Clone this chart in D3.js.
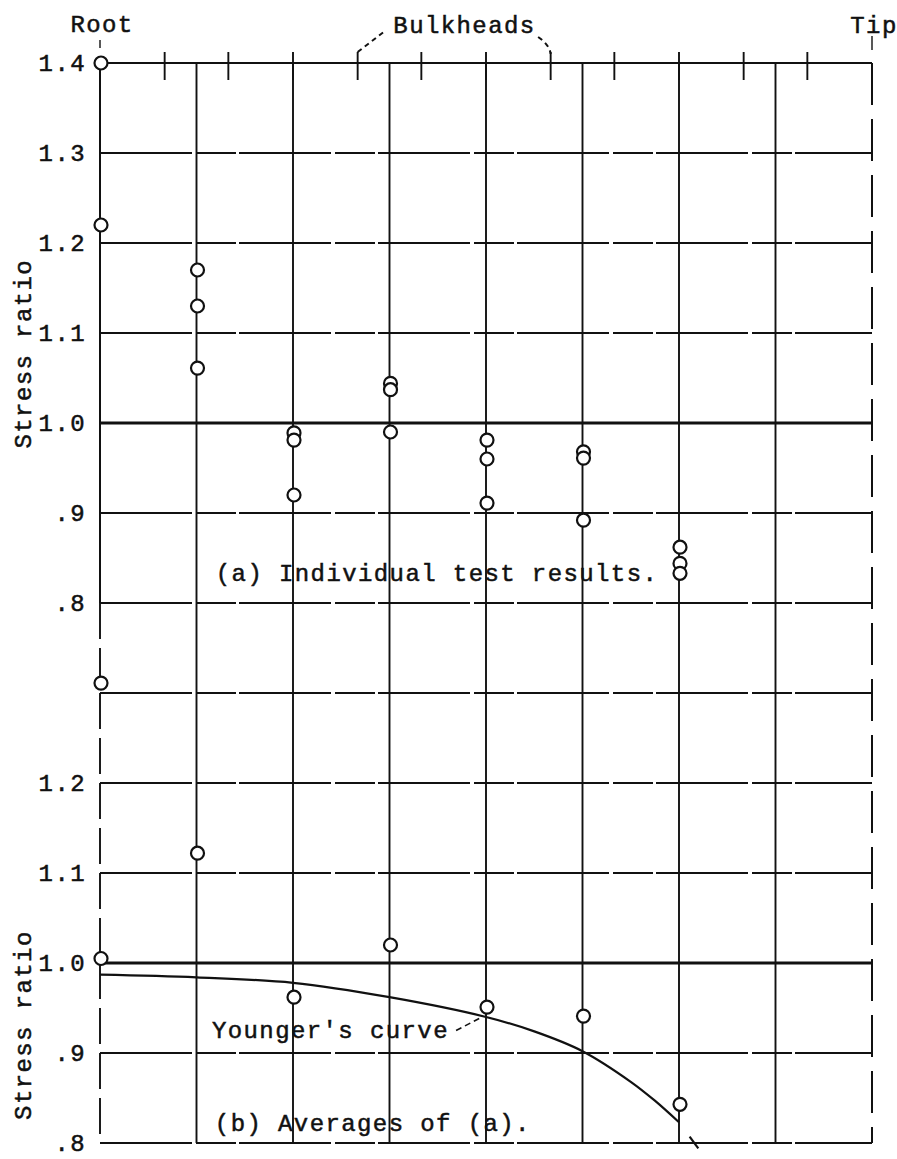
<!DOCTYPE html>
<html>
<head>
<meta charset="utf-8">
<script src="https://cdn.jsdelivr.net/npm/d3@7"></script>
<style>
body { margin: 0; background: #fff; }
text { font-family: "Liberation Mono", "DejaVu Sans Mono", monospace; font-size: 24px; letter-spacing: 1.4px; fill: #111; stroke: #111; stroke-width: 0.5px; }
.grid { stroke: #111; fill: none; }
.dot { fill: #fff; stroke: #111; stroke-width: 2.2; }
</style>
</head>
<body>
<svg width="897" height="1159"></svg>
<script>
// stations along the span, root = 0, tip = 8
var stations = [0, 1, 2, 3, 4, 5, 6, 7, 8];
var bulkheads = [0.67, 1.33, 2, 2.67, 3.33, 4, 4.67, 5.33, 6, 6.67, 7.33];

var topGridValues = [1.4, 1.3, 1.2, 1.1, 1.0, 0.9, 0.8];
var topTickLabels = ["1.4", "1.3", "1.2", "1.1", "1.0", ".9", ".8"];
var bottomGridValues = [1.3, 1.2, 1.1, 1.0, 0.9, 0.8];
var bottomTickValues = [1.2, 1.1, 1.0, 0.9, 0.8];
var bottomTickLabels = ["1.2", "1.1", "1.0", ".9", ".8"];

// (a) individual test results
var testStations = [0, 0, 1, 1, 1, 2, 2, 2, 3, 3, 3, 4, 4, 4, 5, 5, 5, 6, 6, 6];
var testValues = [1.40, 1.22, 1.17, 1.13, 1.061, 0.989, 0.981, 0.92, 1.044, 1.037, 0.99,
                  0.981, 0.96, 0.911, 0.968, 0.961, 0.892, 0.862, 0.844, 0.833];

// (b) averages
var avgStations = [0, 0, 1, 2, 3, 4, 5, 6];
var avgValues = [1.311, 1.005, 1.122, 0.962, 1.02, 0.951, 0.941, 0.843];

// Younger's curve
var youngerStations = [0, 1, 2, 3, 4, 4.5, 5, 5.5, 5.75, 6];
var youngerValues = [0.987, 0.984, 0.978, 0.962, 0.940, 0.924, 0.902, 0.868, 0.847, 0.823];
var youngerTailStations = [6.11, 6.2];
var youngerTailValues = [0.807, 0.794];

var svg = d3.select("svg"),
    margin = {top: 63, right: 25, left: 100},
    width = 897 - margin.left - margin.right,
    panelHeight = 540,
    g = svg.append("g").attr("transform", "translate(" + margin.left + "," + margin.top + ")");

var x = d3.scaleLinear().domain([0, 8]).range([0, width]),
    yTop = d3.scaleLinear().domain([0.8, 1.4]).range([panelHeight, 0]),
    yBot = d3.scaleLinear().domain([0.8, 1.4]).range([2 * panelHeight, panelHeight]);

function hStyle(sel) {
    sel.attr("stroke-width", function(d) { return d === 1.0 ? 2.8 : 1.9; })
       .attr("stroke-dasharray", function(d) { return (d === 1.0 || d === 1.4) ? null : "92,4,40,3"; });
}

// horizontal grid
g.selectAll(".htop").data(topGridValues).enter().append("line")
    .attr("class", "grid htop")
    .attr("x1", x(0)).attr("x2", x(8))
    .attr("y1", function(d) { return yTop(d); })
    .attr("y2", function(d) { return yTop(d); })
    .call(hStyle);

g.selectAll(".hbot").data(bottomGridValues).enter().append("line")
    .attr("class", "grid hbot")
    .attr("x1", x(0)).attr("x2", x(8))
    .attr("y1", function(d) { return yBot(d); })
    .attr("y2", function(d) { return yBot(d); })
    .call(hStyle);

// vertical grid
g.selectAll(".vline").data(stations.slice(1, 8)).enter().append("line")
    .attr("class", "grid vline")
    .attr("x1", function(d) { return x(d); })
    .attr("x2", function(d) { return x(d); })
    .attr("y1", yTop(1.4)).attr("y2", yBot(0.8))
    .attr("stroke-width", 1.9);

// root edge: solid in (a), broken in (b)
g.append("line").attr("class", "grid")
    .attr("x1", x(0)).attr("x2", x(0))
    .attr("y1", yTop(1.4)).attr("y2", yTop(0.8))
    .attr("stroke-width", 2);
g.append("line").attr("class", "grid")
    .attr("x1", x(0)).attr("x2", x(0))
    .attr("y1", yBot(1.4)).attr("y2", yBot(0.8))
    .attr("stroke-width", 1.9)
    .attr("stroke-dasharray", "36,9");

// tip edge, dashed
g.append("line").attr("class", "grid")
    .attr("x1", x(8)).attr("x2", x(8))
    .attr("y1", yTop(1.4)).attr("y2", yBot(0.8))
    .attr("stroke-width", 2)
    .attr("stroke-dasharray", "42,14");

// bulkhead ticks on the top edge
g.selectAll(".bulk").data(bulkheads).enter().append("line")
    .attr("class", "grid bulk")
    .attr("x1", function(d) { return x(d); })
    .attr("x2", function(d) { return x(d); })
    .attr("y1", yTop(1.4) - 11).attr("y2", yTop(1.4) + 17)
    .attr("stroke-width", 1.9);

// y axes
g.append("g")
    .call(d3.axisLeft(yTop).tickValues(topGridValues)
        .tickFormat(function(d, i) { return topTickLabels[i]; })
        .tickSize(0).tickPadding(14))
    .call(function(a) { a.select(".domain").remove(); });

g.append("g")
    .call(d3.axisLeft(yBot).tickValues(bottomTickValues)
        .tickFormat(function(d, i) { return bottomTickLabels[i]; })
        .tickSize(0).tickPadding(14))
    .call(function(a) { a.select(".domain").remove(); });

g.selectAll(".tick text")
    .attr("font-family", null).attr("font-size", null)
    .attr("fill", "#111");

// Younger's curve
var curve = d3.line()
    .curve(d3.curveCatmullRom)
    .x(function(d) { return x(d[0]); })
    .y(function(d) { return yBot(d[1]); });

g.append("path")
    .datum(d3.zip(youngerStations, youngerValues))
    .attr("class", "grid")
    .attr("stroke-width", 2.2)
    .attr("d", curve);

g.append("path")
    .datum(d3.zip(youngerTailStations, youngerTailValues))
    .attr("class", "grid")
    .attr("stroke-width", 2.2)
    .attr("d", curve);

// points
g.selectAll(".test").data(d3.zip(testStations, testValues)).enter().append("circle")
    .attr("class", "dot")
    .attr("cx", function(d) { return x(d[0]) + 1; })
    .attr("cy", function(d) { return yTop(d[1]); })
    .attr("r", 6.5);

g.selectAll(".avg").data(d3.zip(avgStations, avgValues)).enter().append("circle")
    .attr("class", "dot")
    .attr("cx", function(d) { return x(d[0]) + 1; })
    .attr("cy", function(d) { return yBot(d[1]); })
    .attr("r", 6.5);

// labels
g.append("text").attr("x", x(0) + 2).attr("y", -31)
    .attr("text-anchor", "middle").text("Root");
g.append("line").attr("class", "grid")
    .attr("x1", x(0)).attr("x2", x(0)).attr("y1", -23).attr("y2", -15)
    .attr("stroke-width", 1.4);

g.append("text").attr("x", x(8) + 2).attr("y", -30)
    .attr("text-anchor", "middle").text("Tip");
g.append("line").attr("class", "grid")
    .attr("x1", x(8)).attr("x2", x(8)).attr("y1", -27).attr("y2", -13)
    .attr("stroke-width", 1.4);

g.append("text").attr("x", x(3.04)).attr("y", -30).text("Bulkheads");
g.append("path").attr("class", "grid")
    .attr("stroke-width", 2).attr("stroke-dasharray", "5,4")
    .attr("d", "M" + x(2.67) + "," + (yTop(1.4) - 11) + "L" + x(2.94) + "," + -31);
g.append("path").attr("class", "grid")
    .attr("stroke-width", 2).attr("stroke-dasharray", "5,4")
    .attr("d", "M" + x(4.54) + "," + -26 + "Q" + x(4.66) + "," + -18 + " " + x(4.67) + "," + (yTop(1.4) - 9));

g.append("text")
    .attr("transform", "translate(-69," + yTop(1.077) + ") rotate(-90)")
    .attr("text-anchor", "middle").text("Stress ratio");
g.append("text")
    .attr("transform", "translate(-69," + yBot(0.931) + ") rotate(-90)")
    .attr("text-anchor", "middle").text("Stress ratio");

g.append("text").attr("x", x(1.2)).attr("y", yTop(0.834)).attr("dy", "0.35em")
    .text("(a) Individual test results.");
g.append("text").attr("x", x(1.19)).attr("y", yBot(0.823)).attr("dy", "0.35em")
    .text("(b) Averages of (a).");
g.append("text").attr("x", x(1.16)).attr("y", yBot(0.926)).attr("dy", "0.35em")
    .text("Younger's curve");
g.append("path").attr("class", "grid")
    .attr("stroke-width", 1.6).attr("stroke-dasharray", "6,4")
    .attr("d", "M" + x(3.69) + "," + yBot(0.925) + "L" + x(3.96) + "," + yBot(0.940));
</script>
</body>
</html>
